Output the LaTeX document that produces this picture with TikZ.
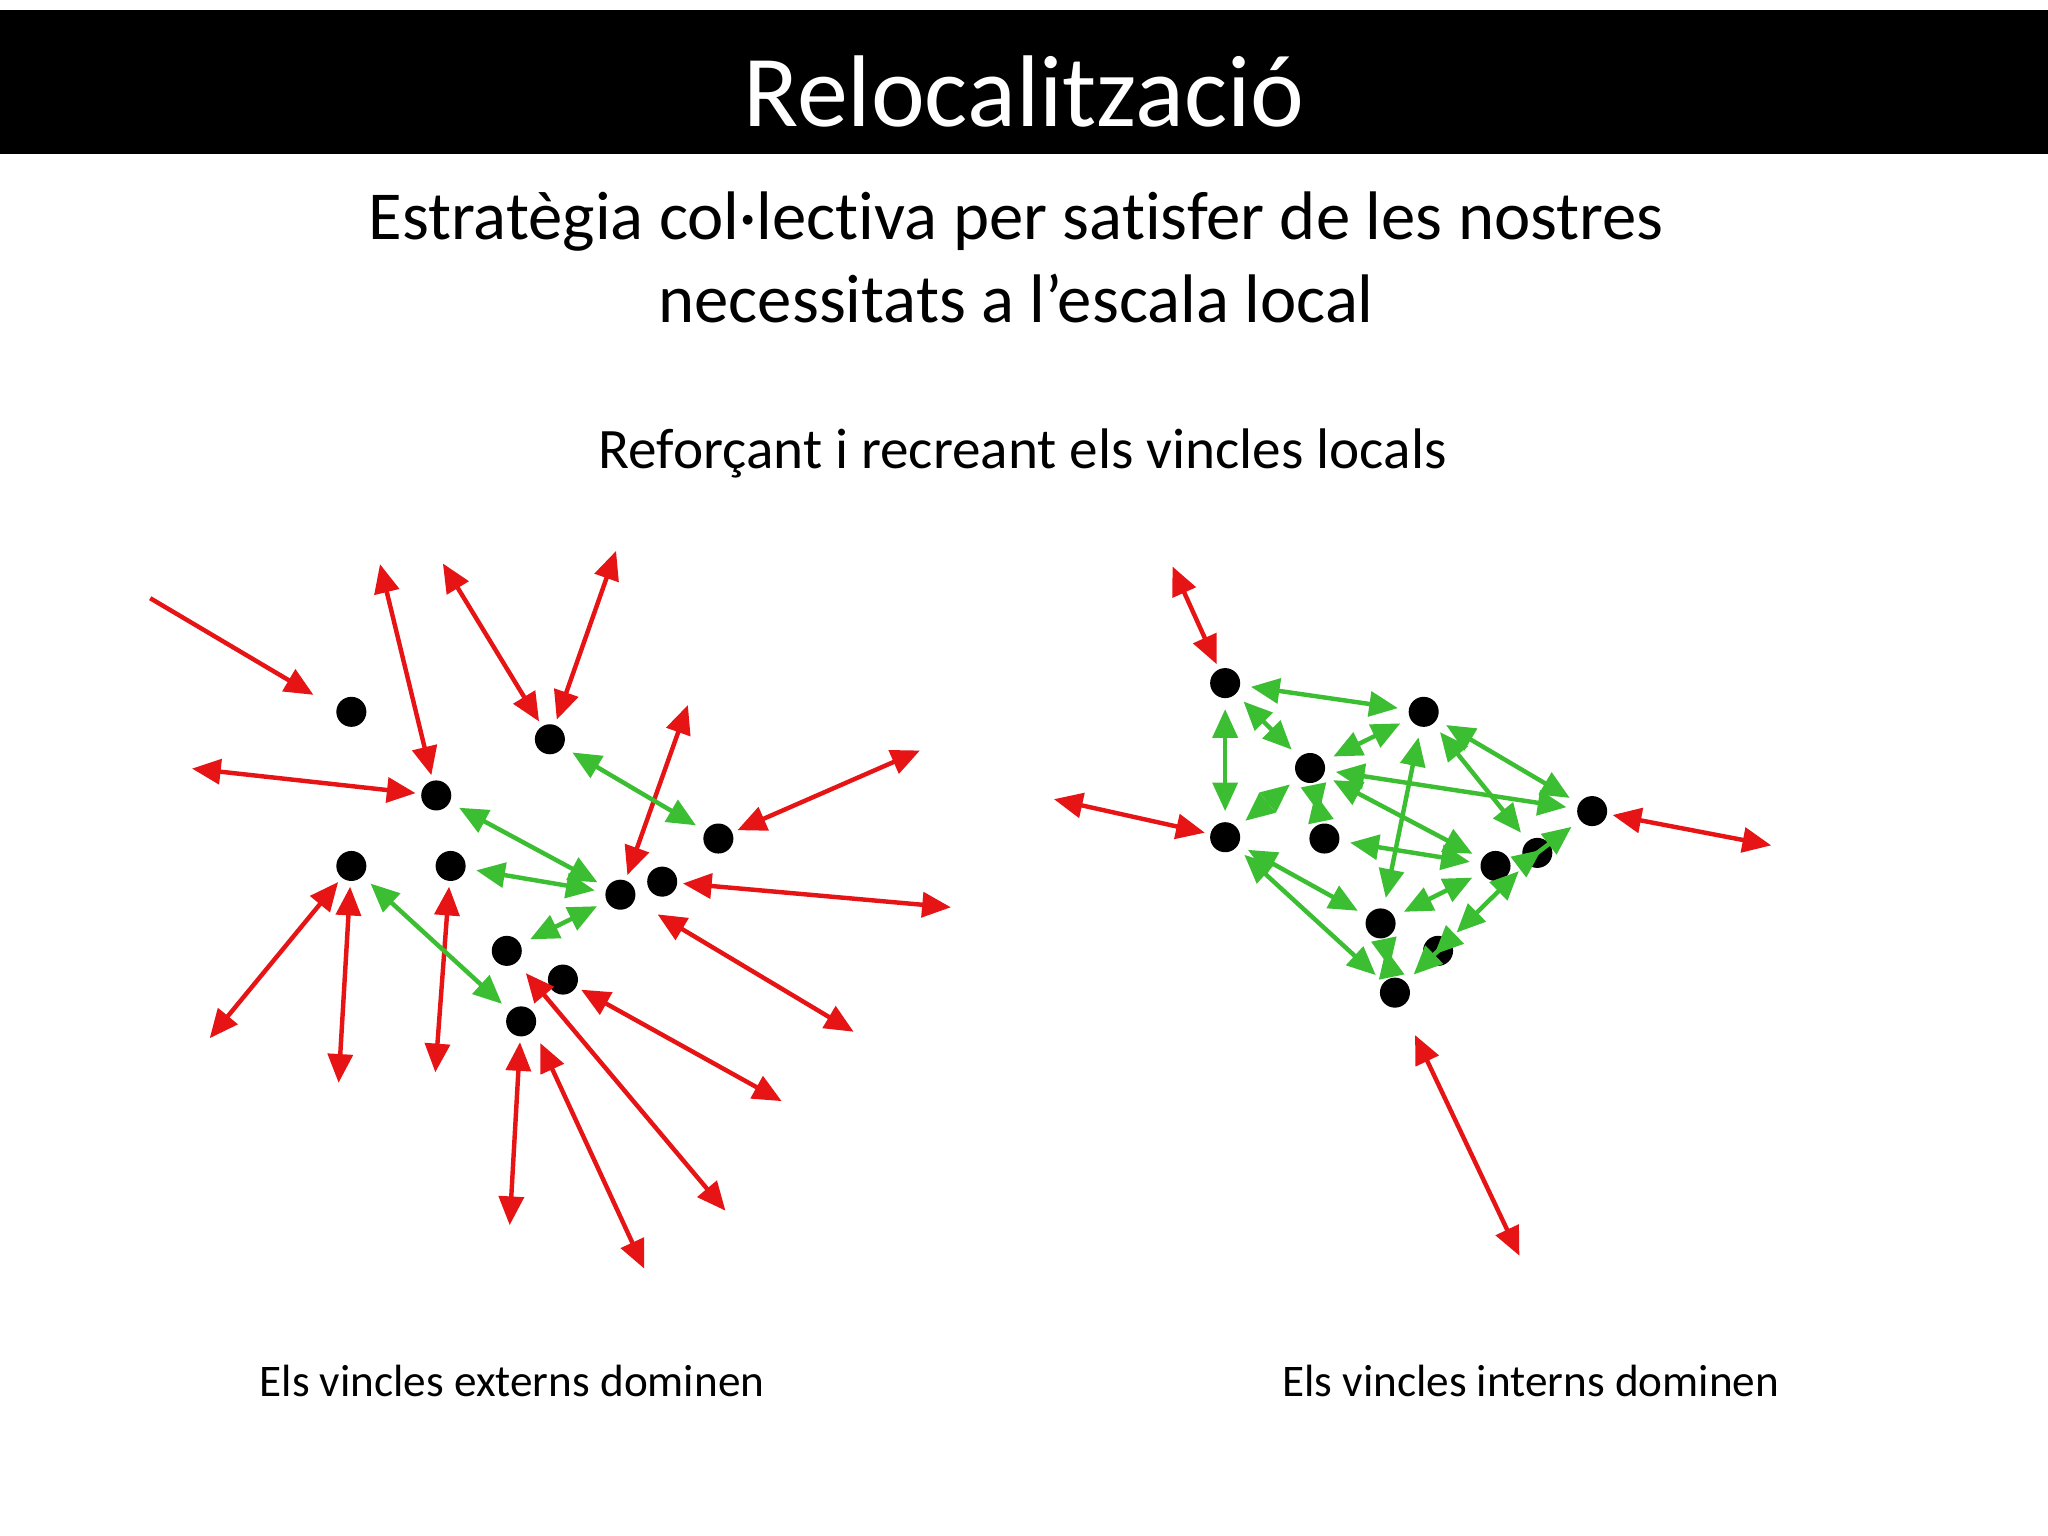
\documentclass[tikz,border=0pt]{standalone}
\usepackage{fontspec}
\setmainfont[Ligatures=NoCommon]{Carlito}
\usetikzlibrary{arrows.meta}
\begin{document}
\begin{tikzpicture}[x=0.5pt,y=-0.5pt,
  dot/.style={circle,fill=black,inner sep=0pt,minimum size=11.5pt},
  tip/.tip={Triangle[length=11pt,width=9.5pt]},
  red2/.style={draw={rgb,255:red,230;green,20;blue,20},line width=1.7pt,{tip}-{tip},shorten <=2pt,shorten >=2pt},
  red1/.style={draw={rgb,255:red,230;green,20;blue,20},line width=1.7pt,-{tip}},
  grn/.style={draw={rgb,255:red,60;green,190;blue,50},line width=1.7pt,{tip}-{tip},shorten <=4pt,shorten >=4pt}]
\useasboundingbox (0,0) rectangle (1568,1176);
\fill[white] (0,0) rectangle (1568,1176);
\fill[black] (0,8) rectangle (1568,118);
\node[text=white,font=\fontsize{39}{44}\selectfont] (title) at (784,70) {Relocalització};
\node[font=\fontsize{26.3}{32}\selectfont,align=center] (sub) at (778,197) {Estratègia col·lectiva per satisfer de les nostres\\necessitats a l’escala local};
\node[font=\fontsize{21.9}{24}\selectfont] (ref) at (783,347) {Reforçant i recreant els vincles locals};
\node[font=\fontsize{17.3}{20}\selectfont] (l1) at (392,1057) {Els vincles externs dominen};
\node[font=\fontsize{17.3}{20}\selectfont] (l2) at (1172,1057) {Els vincles interns dominen};
% left network
\node[dot] (A) at (269,545) {};
\node[dot] (B) at (421,566) {};
\node[dot] (C) at (334,609) {};
\node[dot] (D) at (550,642) {};
\node[dot] (E) at (269,663) {};
\node[dot] (F) at (345,663) {};
\node[dot] (G) at (475,685) {};
\node[dot] (H) at (507,675) {};
\node[dot] (I) at (388,728) {};
\node[dot] (J) at (431,750) {};
\node[dot] (K) at (399,782) {};
\coordinate (r1) at (115,458); \coordinate (r1e) at (240,532);
\coordinate (r2) at (290,428);
\coordinate (r3) at (337,428);
\coordinate (r4) at (473,418);
\coordinate (r5) at (143,588);
\coordinate (r6) at (528,536);
\coordinate (r7) at (708,573);
\coordinate (r8) at (732,695);
\coordinate (r9) at (657,792); \coordinate (r9e) at (500,698);
\coordinate (r10) at (602,845);
\coordinate (r11) at (558,930); \coordinate (r11e) at (400,742);
\coordinate (r12) at (495,975); \coordinate (r12e) at (412,795);
\coordinate (r13) at (390,942);
\coordinate (r14) at (158,798);
\coordinate (r15) at (259,833);
\coordinate (r16) at (333,825);
\draw[red1] (r1) -- (r1e);
\draw[red2] (r2) -- (C);
\draw[red2] (r3) -- (B);
\draw[red2] (r4) -- (B);
\draw[red2] (r5) -- (C);
\draw[red2] (r6) -- (G);
\draw[red2] (r7) -- (D);
\draw[red2] (r8) -- (H);
\draw[red2] (r9) -- (r9e);
\draw[red2] (r10) -- (J);
\draw[red2] (r11) -- (r11e);
\draw[red2] (r12) -- (r12e);
\draw[red2] (r13) -- (K);
\draw[red2] (r14) -- (E);
\draw[red2] (r15) -- (E);
\draw[red2] (r16) -- (F);
\draw[grn] (B) -- (D);
\draw[grn] (C) -- (G);
\draw[grn] (F) -- (G);
\draw[grn] (G) -- (I);
\draw[grn] (E) -- (K);
% right network
\node[dot] (P1) at (938,523) {};
\node[dot] (P2) at (1090,545) {};
\node[dot] (P3) at (1003,588) {};
\node[dot] (P4) at (938,641) {};
\node[dot] (P5) at (1014,642) {};
\node[dot] (P6) at (1219,621) {};
\node[dot] (P7) at (1177,653) {};
\node[dot] (P8) at (1145,663) {};
\node[dot] (P9) at (1057,707) {};
\node[dot] (P10) at (1101,728) {};
\node[dot] (P11) at (1068,760) {};
\coordinate (q1) at (896,430);
\coordinate (q2) at (803,611);
\coordinate (q3) at (1360,648);
\coordinate (q4) at (1165,965);
\draw[red2] (q1) -- (P1);
\draw[red2] (q2) -- (P4);
\draw[red2] (q3) -- (P6);
\draw[red2,shorten >=12pt] (q4) -- (P11);
\foreach \a/\b in {P1/P2,P1/P3,P1/P4,P2/P3,P2/P9,P2/P6,P2/P7,P3/P4,P3/P5,P3/P6,P3/P8,P5/P8,P4/P9,P4/P11,P9/P8,P9/P11,P10/P11,P7/P10,P7/P6}
  \draw[grn] (\a) -- (\b);
\end{tikzpicture}
\end{document}
